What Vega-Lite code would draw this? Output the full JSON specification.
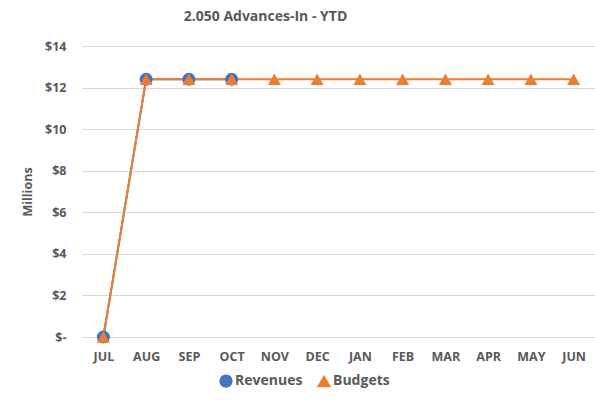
{
  "$schema": "https://vega.github.io/schema/vega-lite/v6.json",
  "width": 513,
  "height": 291,
  "autosize": {"type": "none"},
  "padding": {"left": 82, "top": 46, "right": 0, "bottom": 63},
  "background": "white",
  "title": {
    "text": "2.050 Advances-In - YTD",
    "font": "Open Sans",
    "fontSize": 14,
    "fontWeight": "bold",
    "color": "#595959",
    "anchor": "middle",
    "dx": -73,
    "offset": 16
  },
  "config": {
    "view": {"stroke": null},
    "axis": {"labelFont": "Open Sans", "labelFontWeight": "bold", "labelColor": "#595959", "labelFontSize": 12.5, "titleFont": "Open Sans", "titleColor": "#595959", "titleFontWeight": "bold", "titleFontSize": 12.5}
  },
  "data": {
    "values": [
      {"month": "JUL", "series": "Revenues", "value": 0},
      {"month": "AUG", "series": "Revenues", "value": 12.4},
      {"month": "SEP", "series": "Revenues", "value": 12.4},
      {"month": "OCT", "series": "Revenues", "value": 12.4},
      {"month": "JUL", "series": "Budgets", "value": 0},
      {"month": "AUG", "series": "Budgets", "value": 12.4},
      {"month": "SEP", "series": "Budgets", "value": 12.4},
      {"month": "OCT", "series": "Budgets", "value": 12.4},
      {"month": "NOV", "series": "Budgets", "value": 12.4},
      {"month": "DEC", "series": "Budgets", "value": 12.4},
      {"month": "JAN", "series": "Budgets", "value": 12.4},
      {"month": "FEB", "series": "Budgets", "value": 12.4},
      {"month": "MAR", "series": "Budgets", "value": 12.4},
      {"month": "APR", "series": "Budgets", "value": 12.4},
      {"month": "MAY", "series": "Budgets", "value": 12.4},
      {"month": "JUN", "series": "Budgets", "value": 12.4}
    ]
  },
  "encoding": {
    "x": {
      "field": "month", "type": "ordinal",
      "sort": ["JUL","AUG","SEP","OCT","NOV","DEC","JAN","FEB","MAR","APR","MAY","JUN"],
      "scale": {"type": "point", "padding": 0.5},
      "axis": {"title": null, "labelAngle": 0, "ticks": false, "domainColor": "#d9d9d9", "labelPadding": 13, "grid": false}
    },
    "y": {
      "field": "value", "type": "quantitative",
      "scale": {"domain": [0, 14]},
      "axis": {"title": "Millions", "values": [0,2,4,6,8,10,12,14], "labelExpr": "datum.value == 0 ? '$-' : '$' + datum.value", "ticks": false, "domain": false, "gridColor": "#d9d9d9", "labelPadding": 16, "titlePadding": 10}
    },
    "color": {
      "field": "series", "type": "nominal",
      "scale": {"domain": ["Revenues", "Budgets"], "range": ["#4472c4", "#ed7d31"]},
      "legend": {"title": null, "orient": "none", "legendX": 137, "legendY": 328, "direction": "horizontal", "labelFont": "Open Sans", "labelFontSize": 14, "labelFontWeight": "bold", "labelColor": "#595959", "symbolSize": 140, "columnPadding": 12, "labelOffset": 2}
    }
  },
  "layer": [
    {
      "mark": {"type": "line", "strokeWidth": 2}
    },
    {
      "mark": {"type": "point", "filled": true, "opacity": 1},
      "encoding": {
        "shape": {"field": "series", "type": "nominal", "scale": {"domain": ["Revenues", "Budgets"], "range": ["circle", "triangle-up"]}, "legend": null},
        "size": {"value": 170}
      }
    }
  ]
}
